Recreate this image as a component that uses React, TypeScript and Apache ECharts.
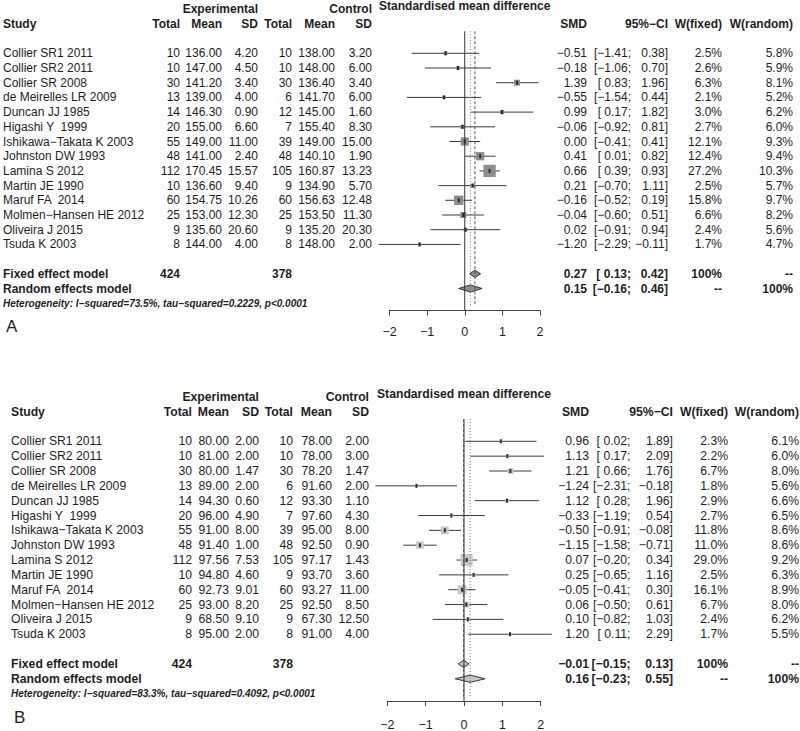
import React, { useEffect, useRef } from "react";
import * as echarts from "echarts";

const FONT = '"Liberation Sans", Arial, Helvetica, sans-serif';
const TEXT = "#1e1e1e";
const LINE = "#3a3a3a";

// ---------- data ----------
const studies = [
  "Collier SR1 2011", "Collier SR2 2011", "Collier SR 2008", "de Meirelles LR 2009",
  "Duncan JJ 1985", "Higashi Y  1999", "Ishikawa−Takata K 2003", "Johnston DW 1993",
  "Lamina S 2012", "Martin JE 1990", "Maruf FA  2014", "Molmen−Hansen HE 2012",
  "Oliveira J 2015", "Tsuda K 2003",
];
const expTotal = [10, 10, 30, 13, 14, 20, 55, 48, 112, 10, 60, 25, 9, 8];
const ctlTotal = [10, 10, 30, 6, 12, 7, 39, 48, 105, 9, 60, 25, 9, 8];
const groupTotals = [424, 378];

// Panel A
const A_expMean = [136.0, 147.0, 141.2, 139.0, 146.3, 155.0, 149.0, 141.0, 170.45, 136.6, 154.75, 153.0, 135.6, 144.0];
const A_expSD = [4.2, 4.5, 3.4, 4.0, 0.9, 6.6, 11.0, 2.4, 15.57, 9.4, 10.26, 12.3, 20.6, 4.0];
const A_ctlMean = [138.0, 148.0, 136.4, 141.7, 145.0, 155.4, 149.0, 140.1, 160.87, 134.9, 156.63, 153.5, 135.2, 148.0];
const A_ctlSD = [3.2, 6.0, 3.4, 6.0, 1.6, 8.3, 15.0, 1.9, 13.23, 5.7, 12.48, 11.3, 20.3, 2.0];
const A_smd = [-0.51, -0.18, 1.39, -0.55, 0.99, -0.06, 0.0, 0.41, 0.66, 0.21, -0.16, -0.04, 0.02, -1.2];
const A_lower = [-1.41, -1.06, 0.83, -1.54, 0.17, -0.92, -0.41, 0.01, 0.39, -0.7, -0.52, -0.6, -0.91, -2.29];
const A_upper = [0.38, 0.7, 1.96, 0.44, 1.82, 0.81, 0.41, 0.82, 0.93, 1.11, 0.19, 0.51, 0.94, -0.11];
const A_wFixed = [2.5, 2.6, 6.3, 2.1, 3.0, 2.7, 12.1, 12.4, 27.2, 2.5, 15.8, 6.6, 2.4, 1.7];
const A_wRandom = [5.8, 5.9, 8.1, 5.2, 6.2, 6.0, 9.3, 9.4, 10.3, 5.7, 9.7, 8.2, 5.6, 4.7];
const A_sumEst = [0.27, 0.15]; // fixed, random
const A_sumLo = [0.13, -0.16];
const A_sumHi = [0.42, 0.46];
const A_het = "Heterogeneity: I−squared=73.5%, tau−squared=0.2229, p<0.0001";

// Panel B
const B_expMean = [80.0, 81.0, 80.0, 89.0, 94.3, 96.0, 91.0, 91.4, 97.56, 94.8, 92.73, 93.0, 68.5, 95.0];
const B_expSD = [2.0, 2.0, 1.47, 2.0, 0.6, 4.9, 8.0, 1.0, 7.53, 4.6, 9.01, 8.2, 9.1, 2.0];
const B_ctlMean = [78.0, 78.0, 78.2, 91.6, 93.3, 97.6, 95.0, 92.5, 97.17, 93.7, 93.27, 92.5, 67.3, 91.0];
const B_ctlSD = [2.0, 3.0, 1.47, 2.0, 1.1, 4.3, 8.0, 0.9, 1.43, 3.6, 11.0, 8.5, 12.5, 4.0];
const B_smd = [0.96, 1.13, 1.21, -1.24, 1.12, -0.33, -0.5, -1.15, 0.07, 0.25, -0.05, 0.06, 0.1, 1.2];
const B_lower = [0.02, 0.17, 0.66, -2.31, 0.28, -1.19, -0.91, -1.58, -0.2, -0.65, -0.41, -0.5, -0.82, 0.11];
const B_upper = [1.89, 2.09, 1.76, -0.18, 1.96, 0.54, -0.08, -0.71, 0.34, 1.16, 0.3, 0.61, 1.03, 2.29];
const B_wFixed = [2.3, 2.2, 6.7, 1.8, 2.9, 2.7, 11.8, 11.0, 29.0, 2.5, 16.1, 6.7, 2.4, 1.7];
const B_wRandom = [6.1, 6.0, 8.0, 5.6, 6.6, 6.5, 8.6, 8.6, 9.2, 6.3, 8.9, 8.0, 6.2, 5.5];
const B_sumEst = [-0.01, 0.16];
const B_sumLo = [-0.15, -0.23];
const B_sumHi = [0.13, 0.55];
const B_het = "Heterogeneity: I−squared=83.3%, tau−squared=0.4092, p<0.0001";

const axisTicks = [-2, -1, 0, 1, 2];

// ---------- layout (positions / styles) ----------
const layoutA = {
  row0: 53.3, step: 14.7, xLeft: 389.5, xRight: 540, studyX: 3,
  eTot: 180, eMean: 222, eSD: 258, cTot: 292, cMean: 335, cSD: 372,
  smd: 587, ciSemi: 631, ciEnd: 668, wf: 722, wr: 793,
  boxK: 2.36, sqFill: "#8d8d8d", diaFill: "#8d8d8d", labelMargin: 15,
  letter: "A", letterRow: 18.6, fontSize: 12,
};
const layoutB = {
  row0: 441.5, step: 14.95, xLeft: 387.3, xRight: 540.7, studyX: 11,
  eTot: 192, eMean: 229, eSD: 259, cTot: 293, cMean: 332, cSD: 369,
  smd: 589, ciSemi: 630.5, ciEnd: 673, wf: 728, wr: 799,
  boxK: 2.25, sqFill: "#c8c8c8", diaFill: "#c8c8c8", labelMargin: 17,
  letter: "B", letterRow: 18.6, fontSize: 12.2,
};

const panels = [
  {
    L: layoutA, expMean: A_expMean, expSD: A_expSD, ctlMean: A_ctlMean, ctlSD: A_ctlSD,
    smd: A_smd, lower: A_lower, upper: A_upper, wFixed: A_wFixed, wRandom: A_wRandom,
    sumEst: A_sumEst, sumLo: A_sumLo, sumHi: A_sumHi, het: A_het,
  },
  {
    L: layoutB, expMean: B_expMean, expSD: B_expSD, ctlMean: B_ctlMean, ctlSD: B_ctlSD,
    smd: B_smd, lower: B_lower, upper: B_upper, wFixed: B_wFixed, wRandom: B_wRandom,
    sumEst: B_sumEst, sumLo: B_sumLo, sumHi: B_sumHi, het: B_het,
  },
];

const ROW_MIN = -1.5;
const ROW_MAX = 17.5;

const num = (v: number, d = 2) => (v < 0 ? "−" : "") + Math.abs(v).toFixed(d);
const ciLeft = (v: number) => "[" + (v < 0 ? "−" : " ") + Math.abs(v).toFixed(2) + ";";
const ciRight = (v: number) => num(v) + "]";

function txt(text: string, x: number, y: number, align: string, o: any = {}) {
  return {
    type: "text",
    x,
    y,
    silent: true,
    style: {
      text,
      fill: TEXT,
      fontSize: o.size ?? 12,
      fontFamily: FONT,
      fontWeight: o.bold ? "bold" : "normal",
      fontStyle: o.italic ? "italic" : "normal",
      align,
      verticalAlign: "middle",
      textAlign: align,
      textVerticalAlign: "middle",
    },
  };
}

function buildOption() {
  const grid: any[] = [];
  const xAxis: any[] = [];
  const yAxis: any[] = [];
  const series: any[] = [];

  panels.forEach((p, gi) => {
    const L = p.L;
    const fs = L.fontSize;
    grid.push({
      left: L.xLeft,
      width: L.xRight - L.xLeft,
      top: L.row0 + ROW_MIN * L.step,
      height: (ROW_MAX - ROW_MIN) * L.step,
      containLabel: false,
    });
    xAxis.push({
      type: "value",
      gridIndex: gi,
      min: axisTicks[0],
      max: axisTicks[axisTicks.length - 1],
      interval: 1,
      position: "bottom",
      axisLine: { onZero: false, lineStyle: { color: "#444", width: 1 } },
      axisTick: { show: true, length: 5, lineStyle: { color: "#444", width: 1 } },
      axisLabel: {
        margin: L.labelMargin,
        fontSize: 12.5,
        fontFamily: FONT,
        color: TEXT,
        formatter: (v: number) => (v < 0 ? "−" + Math.abs(v) : String(v)),
      },
      splitLine: { show: false },
    });
    yAxis.push({
      type: "value",
      gridIndex: gi,
      min: ROW_MIN,
      max: ROW_MAX,
      inverse: true,
      show: false,
      splitLine: { show: false },
    });

    // reference lines: null effect, fixed (dashed), random (dotted)
    series.push({
      type: "line", xAxisIndex: gi, yAxisIndex: gi, silent: true, symbol: "none",
      data: [[0, ROW_MIN], [0, ROW_MAX]],
      lineStyle: { color: "#333", width: 1 },
    });
    series.push({
      type: "line", xAxisIndex: gi, yAxisIndex: gi, silent: true, symbol: "none",
      data: [[p.sumEst[0], ROW_MIN], [p.sumEst[0], 17.2]],
      lineStyle: { color: "#555", width: 1, type: [3, 2] },
    });
    series.push({
      type: "line", xAxisIndex: gi, yAxisIndex: gi, silent: true, symbol: "none",
      data: [[p.sumEst[1], ROW_MIN], [p.sumEst[1], 17.2]],
      lineStyle: { color: "#777", width: 1, type: [1, 2] },
    });

    // study CIs and boxes
    series.push({
      type: "custom", xAxisIndex: gi, yAxisIndex: gi, silent: true, clip: false,
      data: p.smd.map((v, i) => [v, i, p.lower[i], p.upper[i], p.wFixed[i]]),
      renderItem: (params: any, api: any) => {
        const c = api.coord([api.value(0), api.value(1)]);
        const lo = api.coord([api.value(2), api.value(1)]);
        const hi = api.coord([api.value(3), api.value(1)]);
        const s = L.boxK * Math.sqrt(api.value(4));
        return {
          type: "group",
          children: [
            { type: "line", shape: { x1: lo[0], y1: c[1], x2: hi[0], y2: c[1] }, style: { stroke: LINE, lineWidth: 1 } },
            { type: "rect", shape: { x: c[0] - s / 2, y: c[1] - s / 2, width: s, height: s }, style: { fill: L.sqFill } },
            { type: "rect", shape: { x: c[0] - 1, y: c[1] - 2, width: 2, height: 4 }, style: { fill: "#2a2a2a" } },
          ],
        };
      },
    });

    // summary diamonds
    series.push({
      type: "custom", xAxisIndex: gi, yAxisIndex: gi, silent: true, clip: false,
      data: p.sumEst.map((v, k) => [v, 15 + k, p.sumLo[k], p.sumHi[k]]),
      renderItem: (params: any, api: any) => {
        const c = api.coord([api.value(0), api.value(1)]);
        const lo = api.coord([api.value(2), api.value(1)]);
        const hi = api.coord([api.value(3), api.value(1)]);
        const h = 3.6;
        return {
          type: "polygon",
          shape: { points: [[lo[0], c[1]], [c[0], c[1] - h], [hi[0], c[1]], [c[0], c[1] + h]] },
          style: { fill: L.diaFill, stroke: "#333", lineWidth: 1 },
        };
      },
    });

    // table rows
    series.push({
      type: "custom", xAxisIndex: gi, yAxisIndex: gi, silent: true, clip: false,
      data: studies.map((_, i) => [0, i]),
      renderItem: (params: any, api: any) => {
        const i = params.dataIndex;
        const y = api.coord([0, i])[1];
        const o = { size: fs };
        return {
          type: "group",
          children: [
            txt(studies[i], L.studyX, y, "left", o),
            txt(String(expTotal[i]), L.eTot, y, "right", o),
            txt(num(p.expMean[i]), L.eMean, y, "right", o),
            txt(num(p.expSD[i]), L.eSD, y, "right", o),
            txt(String(ctlTotal[i]), L.cTot, y, "right", o),
            txt(num(p.ctlMean[i]), L.cMean, y, "right", o),
            txt(num(p.ctlSD[i]), L.cSD, y, "right", o),
            txt(num(p.smd[i]), L.smd, y, "right", o),
            txt(ciLeft(p.lower[i]), L.ciSemi, y, "right", o),
            txt(ciRight(p.upper[i]), L.ciEnd, y, "right", o),
            txt(p.wFixed[i].toFixed(1) + "%", L.wf, y, "right", o),
            txt(p.wRandom[i].toFixed(1) + "%", L.wr, y, "right", o),
          ],
        };
      },
    });

    // headers, summaries, footer
    series.push({
      type: "custom", xAxisIndex: gi, yAxisIndex: gi, silent: true, clip: false,
      data: [[0, 0]],
      renderItem: (params: any, api: any) => {
        const r = (row: number) => api.coord([0, row])[1];
        const b = { size: fs, bold: true };
        const mid = (L.xLeft + L.xRight) / 2;
        const yF = r(15);
        const yR = r(16);
        return {
          type: "group",
          children: [
            txt("Experimental", L.eSD, r(-3), "right", b),
            txt("Control", L.cSD, r(-3), "right", b),
            txt("Standardised mean difference", mid, r(-3.2), "center", b),
            txt("Study", L.studyX, r(-2), "left", b),
            txt("Total", L.eTot, r(-2), "right", b),
            txt("Mean", L.eMean, r(-2), "right", b),
            txt("SD", L.eSD, r(-2), "right", b),
            txt("Total", L.cTot, r(-2), "right", b),
            txt("Mean", L.cMean, r(-2), "right", b),
            txt("SD", L.cSD, r(-2), "right", b),
            txt("SMD", L.smd, r(-2), "right", b),
            txt("95%−CI", L.ciEnd, r(-2), "right", b),
            txt("W(fixed)", L.wf, r(-2), "right", b),
            txt("W(random)", L.wr, r(-2), "right", b),
            txt("Fixed effect model", L.studyX, yF, "left", b),
            txt(String(groupTotals[0]), L.eTot, yF, "right", b),
            txt(String(groupTotals[1]), L.cTot, yF, "right", b),
            txt(num(p.sumEst[0]), L.smd, yF, "right", b),
            txt(ciLeft(p.sumLo[0]), L.ciSemi, yF, "right", b),
            txt(ciRight(p.sumHi[0]), L.ciEnd, yF, "right", b),
            txt("100%", L.wf, yF, "right", b),
            txt("--", L.wr, yF, "right", b),
            txt("Random effects model", L.studyX, yR, "left", b),
            txt(num(p.sumEst[1]), L.smd, yR, "right", b),
            txt(ciLeft(p.sumLo[1]), L.ciSemi, yR, "right", b),
            txt(ciRight(p.sumHi[1]), L.ciEnd, yR, "right", b),
            txt("--", L.wf, yR, "right", b),
            txt("100%", L.wr, yR, "right", b),
            txt(p.het, L.studyX, r(17), "left", { size: 10, bold: true, italic: true }),
            txt(L.letter, L.studyX + 3, r(L.letterRow), "left", { size: 17 }),
          ],
        };
      },
    });
  });

  return {
    animation: false,
    backgroundColor: "#ffffff",
    grid,
    xAxis,
    yAxis,
    series,
  };
}

export default function App() {
  const ref = useRef<HTMLDivElement>(null);
  useEffect(() => {
    if (!ref.current) return;
    const chart = echarts.init(ref.current, null, { renderer: "svg" });
    chart.setOption(buildOption() as any);
    return () => chart.dispose();
  }, []);
  return (
    <div
      ref={ref}
      style={{ position: "absolute", left: 0, top: 0, width: 800, height: 731, background: "#fff" }}
    />
  );
}
